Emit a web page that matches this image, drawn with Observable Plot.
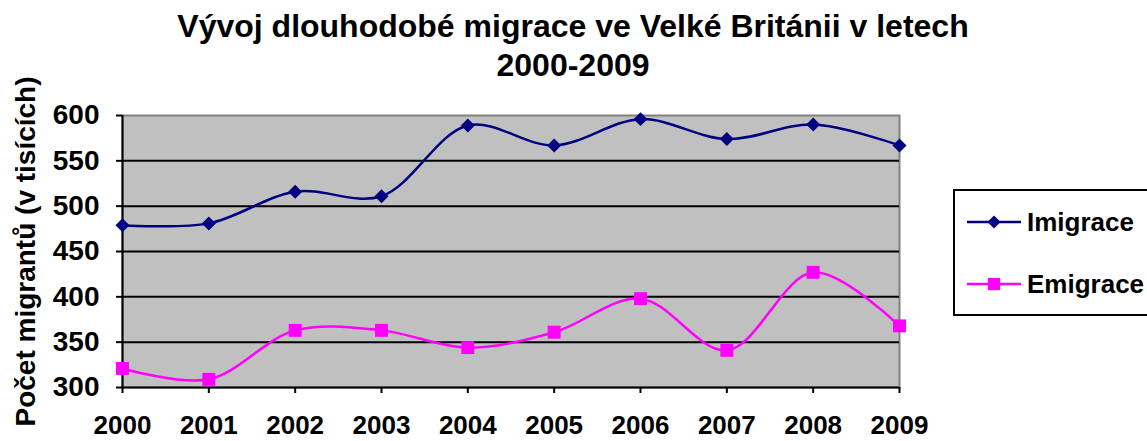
<!DOCTYPE html>
<html>
<head>
<meta charset="utf-8">
<script src="https://cdn.jsdelivr.net/npm/d3@7"></script>
<script src="https://cdn.jsdelivr.net/npm/@observablehq/plot@0.6"></script>
<style>
  html, body { margin: 0; padding: 0; background: white; }
  #wrap { position: relative; width: 1147px; height: 441px; overflow: hidden; font-family: Arial, "Liberation Sans", sans-serif; }
  #legend { position: absolute; left: 953px; top: 189px; width: 220px; height: 123px; border: 2px solid black; background: white; }
  .item { position: absolute; left: 12px; display: flex; align-items: center; font-weight: bold; font-size: 26px; color: black; }
</style>
</head>
<body>
<div id="wrap"></div>
<script>
const titleText = "Vývoj dlouhodobé migrace ve Velké Británii v letech\n2000-2009";
const yLabel = "Počet migrantů (v tisících)";
const years = [2000, 2001, 2002, 2003, 2004, 2005, 2006, 2007, 2008, 2009];
const imigrace = [479, 481, 516, 511, 589, 567, 596, 574, 590, 567];
const emigrace = [321, 309, 363, 363, 344, 361, 398, 341, 427, 368];
const yTicks = [300, 350, 400, 450, 500, 550, 600];
const seriesNames = ["Imigrace", "Emigrace"];
const seriesColors = ["#000080", "#FF00FF"];
const seriesSymbols = ["diamond2", "square"];

const imData = years.map((year, i) => ({year, value: imigrace[i], series: seriesNames[0]}));
const emData = years.map((year, i) => ({year, value: emigrace[i], series: seriesNames[1]}));
const data = imData.concat(emData);

const chart = Plot.plot({
  width: 1147,
  height: 441,
  marginLeft: 122,
  marginRight: 248,
  marginTop: 115,
  marginBottom: 54,
  style: {fontFamily: "Arial, 'Liberation Sans', sans-serif", fontWeight: "bold", color: "black", background: "white", overflow: "visible"},
  x: {type: "linear", domain: [2000, 2009]},
  y: {domain: [300, 600]},
  color: {domain: seriesNames, range: seriesColors},
  marks: [
    Plot.frame({fill: "#C0C0C0", stroke: "#808080", strokeWidth: 2}),
    Plot.ruleY(yTicks.slice(1, -1), {stroke: "black", strokeWidth: 2}),
    Plot.ruleY([300], {stroke: "black", strokeWidth: 2}),
    Plot.ruleX([2000], {stroke: "black", strokeWidth: 2}),
    Plot.axisY({ticks: yTicks, tickSize: 6, tickPadding: 17, fontSize: 28, tickFormat: d => String(d), strokeWidth: 2, label: null}),
    Plot.axisX({ticks: years, tickSize: 6, tickPadding: 22, fontSize: 26, tickFormat: d => String(d), strokeWidth: 2, label: null}),
    Plot.line(data, {x: "year", y: "value", z: "series", stroke: "series", curve: "catmull-rom", strokeWidth: 2.5}),
    Plot.dot(imData, {x: "year", y: "value", symbol: () => seriesSymbols[0], fill: seriesColors[0], r: 6.3}),
    Plot.dot(emData, {x: "year", y: "value", symbol: () => seriesSymbols[1], fill: seriesColors[1], r: 7.3}),
    Plot.text([titleText], {frameAnchor: "top", dx: 62, dy: -106, lineAnchor: "top", fontSize: 32, lineHeight: 1.22, fill: "black"}),
    Plot.text([yLabel], {frameAnchor: "left", dx: -96, rotate: -90, fontSize: 28, textAnchor: "middle", fill: "black"})
  ]
});
document.getElementById("wrap").appendChild(chart);

// legend
const legend = document.createElement("div");
legend.id = "legend";
const itemTops = [31 - 20, 93 - 20];
seriesNames.forEach((name, i) => {
  const item = document.createElement("div");
  item.className = "item";
  item.style.top = itemTops[i] + "px";
  const sw = d3.create("svg").attr("width", 54).attr("height", 40).style("margin-right", "6px");
  sw.append("line").attr("x1", 0).attr("x2", 54).attr("y1", 20).attr("y2", 20).attr("stroke", seriesColors[i]).attr("stroke-width", 2.5);
  const sym = seriesSymbols[i] === "square" ? d3.symbolSquare : d3.symbolDiamond2;
  const size = seriesSymbols[i] === "square" ? 150 : 110;
  sw.append("path").attr("d", d3.symbol(sym, size)()).attr("transform", "translate(27,20)").attr("fill", seriesColors[i]);
  item.appendChild(sw.node());
  const label = document.createElement("span");
  label.textContent = name;
  item.appendChild(label);
  legend.appendChild(item);
});
document.getElementById("wrap").appendChild(legend);
</script>
</body>
</html>
